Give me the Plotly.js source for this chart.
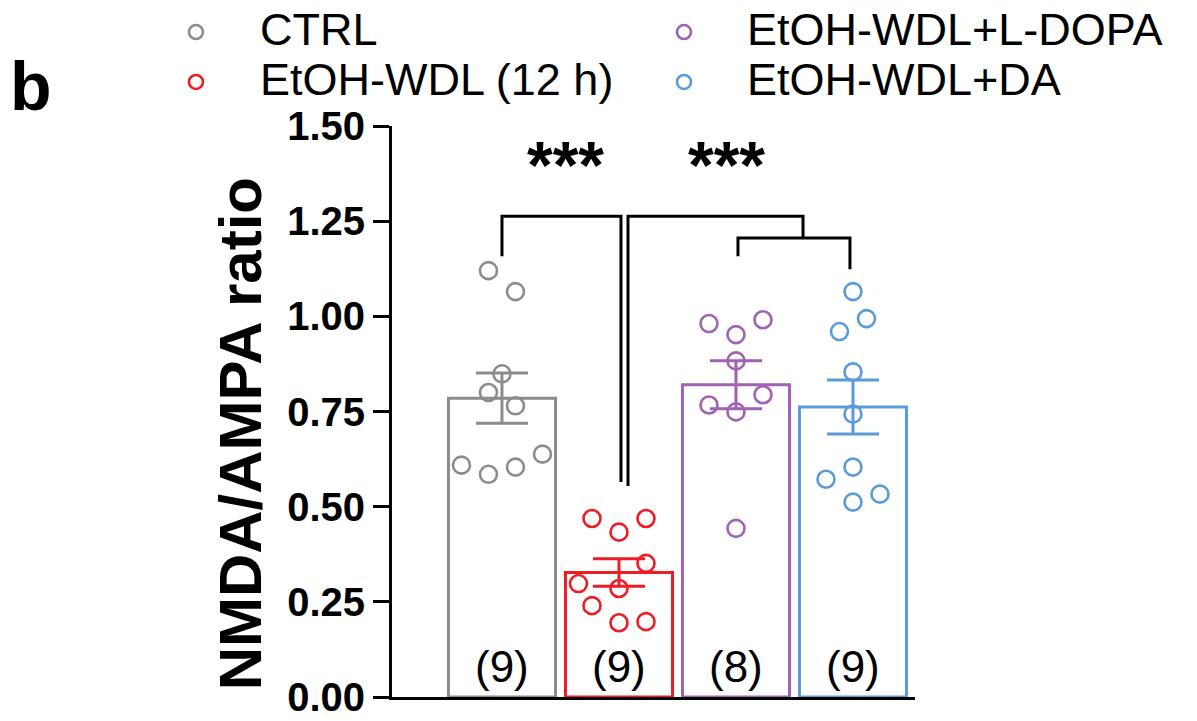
<!DOCTYPE html>
<html>
<head>
<meta charset="utf-8">
<script src="https://cdn.plot.ly/plotly-3.0.1.min.js"></script>
<style>html,body{margin:0;padding:0;background:#fff;}#chart{width:1197px;height:721px;}</style>
</head>
<body>
<div id="chart"></div>
<script>
// ---- data ----
const groups = ['CTRL', 'EtOH-WDL (12 h)', 'EtOH-WDL+L-DOPA', 'EtOH-WDL+DA'];
const means = [0.785, 0.327, 0.820, 0.762];
const sems = [0.066, 0.036, 0.063, 0.071];
const counts = [9, 9, 8, 9];
const ctrlValues = [1.120, 1.065, 0.849, 0.800, 0.765, 0.609, 0.585, 0.604, 0.638];
const ctrlSlots  = [-1, 1, 0, -1, 1, -3, -1, 1, 3];
const wdlValues  = [0.469, 0.469, 0.433, 0.351, 0.298, 0.285, 0.240, 0.195, 0.198];
const wdlSlots   = [-2, 2, 0, 2, -3, 0, -2, 0, 2];
const ldopaValues = [0.981, 0.991, 0.952, 0.883, 0.794, 0.767, 0.749, 0.443];
const ldopaSlots  = [-2, 2, 0, 0, 2, -2, 0, 0];
const daValues = [1.065, 0.994, 0.960, 0.854, 0.743, 0.604, 0.572, 0.533, 0.512];
const daSlots  = [0, 1, -1, 0, 0, 0, -2, 2, 0];
const significance = ['***', '***'];

// ---- styling ----
const colors = ['#8c8c8c', '#ee1c25', '#a062b3', '#5b9bd9'];
const FONT = 'Liberation Sans, Arial, sans-serif';
const slotStep = 0.1154;
const pts = [[ctrlValues, ctrlSlots], [wdlValues, wdlSlots], [ldopaValues, ldopaSlots], [daValues, daSlots]];
const xs = groups.map((g, i) => i);

const traces = [];
traces.push({
  type: 'bar', x: xs, y: means, width: 0.915,
  marker: {color: 'rgba(255,255,255,1)', line: {color: colors, width: 3}},
  showlegend: false, hoverinfo: 'skip'
});
// coloured error bars (mean ± SEM)
groups.forEach((g, i) => {
  traces.push({
    type: 'scatter', mode: 'markers', x: [i], y: [means[i]],
    marker: {size: 1, color: 'rgba(0,0,0,0)'},
    error_y: {type: 'data', array: [sems[i]], visible: true, thickness: 3, width: 26, color: colors[i]},
    showlegend: false, hoverinfo: 'skip'
  });
});
pts.forEach((p, i) => {
  traces.push({
    type: 'scatter', mode: 'markers', name: groups[i],
    x: p[1].map(s => i + s * slotStep), y: p[0],
    marker: {symbol: 'circle-open', size: 17, color: colors[i], line: {width: 2.6, color: colors[i]}},
    showlegend: false
  });
});

// brackets (data coords)
const blk = {color: '#000', width: 3};
const bracketTop = 1.263, bracketMid = 1.206;
const shapes = [
  {type: 'path', xref: 'x', yref: 'y', line: blk,
   path: `M 0,1.158 L 0,${bracketTop} L 1.017,${bracketTop} L 1.017,0.565`},
  {type: 'path', xref: 'x', yref: 'y', line: blk,
   path: `M 1.077,0.554 L 1.077,${bracketTop} L 2.573,${bracketTop} L 2.573,${bracketMid}`},
  {type: 'path', xref: 'x', yref: 'y', line: blk,
   path: `M 2.017,1.158 L 2.017,${bracketMid} L 2.974,${bracketMid} L 2.974,1.124`}
];

// legend circles (paper coords, pixel-sized)
const legendPos = [[-0.3748, 1.1646], [-0.3748, 1.0771], [0.5583, 1.1646], [0.5583, 1.0771]];
const legendText = [[-0.2562, 1.1646], [-0.2562, 1.0771], [0.675, 1.1646], [0.675, 1.0771]];
legendPos.forEach((p, i) => {
  shapes.push({type: 'circle', xref: 'paper', yref: 'paper', xsizemode: 'pixel', ysizemode: 'pixel',
    xanchor: p[0], yanchor: p[1], x0: -7, x1: 7, y0: -7, y1: 7,
    line: {color: colors[i], width: 2.6}, fillcolor: 'rgba(0,0,0,0)'});
});

const annotations = [];
groups.forEach((g, i) => {
  annotations.push({xref: 'paper', yref: 'paper', x: legendText[i][0], y: legendText[i][1] + 0.004,
    xanchor: 'left', yanchor: 'middle', text: g, showarrow: false,
    font: {family: FONT, size: 45, color: '#000'}});
  annotations.push({xref: 'x', yref: 'y', x: i, y: 0.081, xanchor: 'center', yanchor: 'middle',
    text: '(' + counts[i] + ')', showarrow: false, font: {family: FONT, size: 44, color: '#000'}});
});
annotations.push({xref: 'x', yref: 'y', x: 0.54, y: 1.397, text: significance[0], showarrow: false,
  xanchor: 'center', yanchor: 'middle', font: {family: FONT, size: 66, color: '#000', weight: 'bold'}});
annotations.push({xref: 'x', yref: 'y', x: 1.92, y: 1.397, text: significance[1], showarrow: false,
  xanchor: 'center', yanchor: 'middle', font: {family: FONT, size: 66, color: '#000', weight: 'bold'}});
annotations.push({xref: 'paper', yref: 'paper', x: -0.2906, y: 0.46, textangle: -90,
  text: 'NMDA/AMPA ratio', showarrow: false, xanchor: 'center', yanchor: 'middle',
  font: {family: FONT, size: 60, color: '#000', weight: 'bold'}});
annotations.push({xref: 'paper', yref: 'paper', x: -0.735, y: 1.07, text: 'b', showarrow: false,
  xanchor: 'left', yanchor: 'middle', font: {family: FONT, size: 68, color: '#000', weight: 'bold'}});

const layout = {
  width: 1197, height: 721,
  margin: {l: 392, r: 282, t: 126, b: 24},
  paper_bgcolor: '#fff', plot_bgcolor: '#fff',
  showlegend: false,
  xaxis: {range: [-0.94, 3.53], showline: true, linewidth: 3, linecolor: '#000',
    showgrid: false, zeroline: false, showticklabels: false, ticks: ''},
  yaxis: {range: [0, 1.5], dtick: 0.25, tick0: 0, tickformat: '.2f', showline: true, linewidth: 3,
    linecolor: '#000', ticks: 'outside', ticklen: 16, tickwidth: 3, tickcolor: '#000',
    showgrid: false, zeroline: false,
    tickfont: {family: FONT, size: 40, color: '#000', weight: 'bold'}},
  shapes: shapes, annotations: annotations
};
Plotly.newPlot('chart', traces, layout, {displayModeBar: false, staticPlot: true});
</script>
</body>
</html>
